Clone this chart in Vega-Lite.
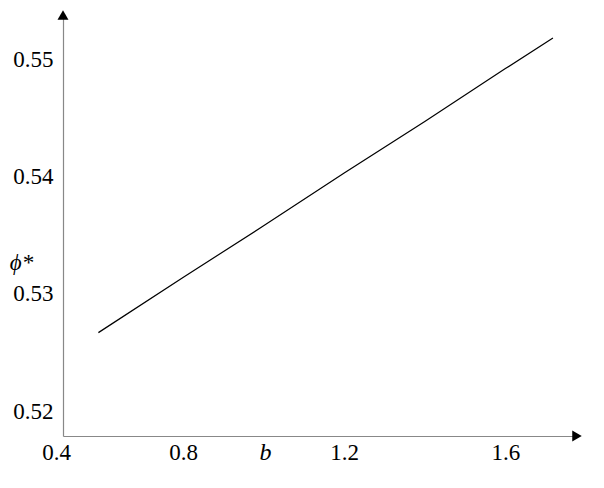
{
  "$schema": "https://vega.github.io/schema/vega-lite/v6.json",
  "width": 514,
  "height": 421,
  "autosize": {"type": "none"},
  "padding": {"left": 63, "top": 15, "right": 27, "bottom": 52},
  "config": {
    "view": {"stroke": null},
    "font": "Liberation Serif",
    "axis": {"labelFont": "Liberation Serif", "titleFont": "Liberation Serif"}
  },
  "datasets": {
    "curve": [
      {"b": 0.59, "phi": 0.5267},
      {"b": 0.8, "phi": 0.5314},
      {"b": 1.0, "phi": 0.5358},
      {"b": 1.2, "phi": 0.5403},
      {"b": 1.4, "phi": 0.5447},
      {"b": 1.6, "phi": 0.5492},
      {"b": 1.718, "phi": 0.5518}
    ],
    "arrows": [
      {"b": 1.7777, "phi": 0.51789, "dir": "x"},
      {"b": 0.5022, "phi": 0.55377, "dir": "y"}
    ]
  },
  "layer": [
    {
      "data": {"name": "curve"},
      "mark": {"type": "line", "color": "black", "strokeWidth": 1.2},
      "encoding": {
        "x": {
          "field": "b",
          "type": "quantitative",
          "scale": {"domain": [0.5022, 1.7777], "nice": false, "zero": false},
          "axis": {
            "title": "b",
            "titleFont": "Liberation Serif",
            "titleFontStyle": "italic",
            "titleFontWeight": "normal",
            "titleFontSize": 24,
            "titleX": 202,
            "titleY": 16,
            "titleBaseline": "middle",
            "titleAlign": "center",
            "values": [0.5022, 0.8, 1.2, 1.6],
            "labelExpr": "datum.value < 0.6 ? '0.4' : format(datum.value, '.1f')",
            "labelOffset": {"condition": {"test": "datum.value < 0.6", "value": -7}, "value": 0},
            "labelFont": "Liberation Serif",
            "labelFontSize": 23,
            "labelColor": "black",
            "labelBaseline": "middle",
            "labelPadding": 16,
            "labelFlush": false,
            "labelOverlap": false,
            "ticks": false,
            "grid": false,
            "domainColor": "#888888",
            "domainWidth": 1.2
          }
        },
        "y": {
          "field": "phi",
          "type": "quantitative",
          "scale": {"domain": [0.51789, 0.55377], "nice": false, "zero": false},
          "axis": {
            "title": "ϕ*",
            "titleFont": "Liberation Serif",
            "titleFontStyle": "italic",
            "titleFontWeight": "normal",
            "titleFontSize": 23,
            "titleAngle": 0,
            "titleX": -42,
            "titleY": 247,
            "titleBaseline": "middle",
            "titleAlign": "center",
            "values": [0.52, 0.53, 0.54, 0.55],
            "format": ".2f",
            "labelFont": "Liberation Serif",
            "labelFontSize": 23,
            "labelColor": "black",
            "labelPadding": 10,
            "labelFlush": false,
            "labelOverlap": false,
            "ticks": false,
            "grid": false,
            "domainColor": "#888888",
            "domainWidth": 1.2
          }
        }
      }
    },
    {
      "data": {"name": "arrows"},
      "mark": {"type": "point", "filled": true, "color": "black", "opacity": 1, "size": 120},
      "encoding": {
        "x": {"field": "b", "type": "quantitative"},
        "y": {"field": "phi", "type": "quantitative"},
        "shape": {
          "field": "dir",
          "type": "nominal",
          "scale": {"domain": ["x", "y"], "range": ["triangle-right", "triangle-up"]},
          "legend": null
        }
      }
    }
  ]
}
